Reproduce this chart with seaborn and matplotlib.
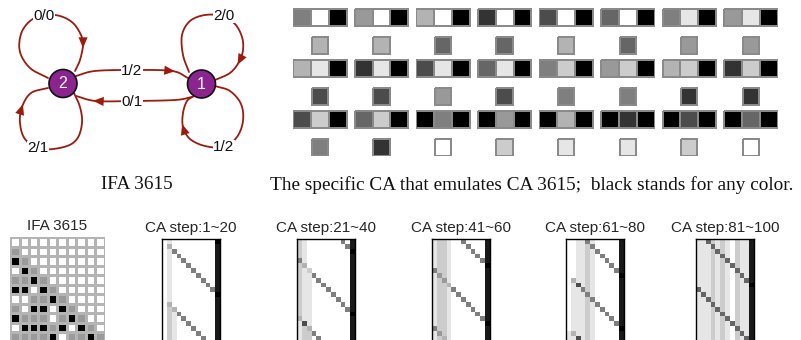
import numpy as np
import matplotlib
matplotlib.use("Agg")
import matplotlib.pyplot as plt
import seaborn as sns
from matplotlib.colors import ListedColormap
from matplotlib.patches import Circle

# ---------------- data ----------------
# transducer IFA 3615: (label, source, target)
edge_labels = ["1/2", "0/1", "0/0", "2/1", "2/0", "1/2"]
edge_src = ["2", "1", "2", "2", "1", "1"]
edge_dst = ["1", "2", "2", "2", "1", "1"]

# CA rules, grey level 0 (white) .. 10 (black); right cell always black
rule_left = [[5, 4, 3, 8, 7, 6, 5, 4],
             [3, 8, 7, 6, 5, 4, 3, 8],
             [7, 6, 10, 10, 10, 10, 10, 10]]
rule_mid = [[0, 0, 0, 0, 0, 0, 1, 1],
            [1, 1, 1, 1, 2, 2, 2, 2],
            [2, 2, 5, 4, 3, 8, 7, 6]]
rule_right = [[10] * 8, [10] * 8, [10] * 8]
rule_out = [[3, 3, 6, 6, 3, 6, 4, 4],
            [7, 7, 4, 7, 5, 5, 8, 8],
            [5, 8, 0, 2, 1, 1, 2, 0]]

# IFA 3615 space-time diagram: 0 white, 1 grey, 2 black
ifa_rows = ["0000000000",
            "1000000000",
            "2100000000",
            "0210000000",
            "1121000000",
            "2202100000",
            "0011210000",
            "1022021000",
            "2111012100",
            "0222120210",
            "1111201121"]

ca_titles = ["CA step:1~20", "CA step:21~40", "CA step:41~60",
             "CA step:61~80", "CA step:81~100"]
# grey level per cell, X = 10 (black)
ca_1 = ["01000000000X", "030000000009", "015000000009", "010500000009",
        "010050000009", "010005000009", "010000500009", "010000050009",
        "010000005009", "010000000509", "010000000059", "01000000000X",
        "010000000009", "030000000009", "023000000009", "021500000009",
        "021050000009", "021005000009", "021000500009", "021000050009",
        "021000005009", "021000000509"]
ca_2 = ["210000000509", "210000000059", "21000000000X", "210000000009",
        "510000000009", "230000000009", "212000000009", "211500000009",
        "211050000009", "211005000009", "211000500009", "211000050009",
        "211000005009", "211000000509", "211000000059", "21100000000X",
        "311000000009", "171000000009", "123000000009", "122500000009",
        "122050000009", "122005000009"]
ca_3 = ["122100500009", "122100050009", "122100005009", "122100000509",
        "122100000059", "12210000000X", "522100000009", "142100000009",
        "124100000009", "122300000009", "122150000009", "122105000009",
        "122100500009", "122100050009", "122100005009", "122100000509",
        "122100000059", "12210000000X", "522100000009", "142100000009",
        "123100000009", "122800000009"]
ca_4 = ["001151000009", "001125000009", "001121500009", "001121050009",
        "001121005009", "001121000509", "001121000059", "00112100000X",
        "031121000009", "017121000009", "011521000009", "011151000009",
        "011125000009", "011121500009", "011121050009", "011121005009",
        "011121000509", "011121000059", "01112100000X", "131121000009",
        "117121000009", "111521000009"]
ca_5 = ["116212102119", "111612102119", "111262102119", "111216102119",
        "111212602119", "111212162119", "111212106119", "111212102619",
        "111212102169", "11121210211X", "611212102119", "161212102119",
        "116212102119", "111612102119", "111262102119", "111216102119",
        "111212602119", "111212162119", "111212106119", "111212102619",
        "111212102169", "11121210211X"]
ca_panels = [ca_1, ca_2, ca_3, ca_4, ca_5]

# ---------------- layout ----------------
sns.set_theme(style="white")
plt.rcParams['font.family'] = ['Liberation Sans', 'DejaVu Sans']

W, H = 801, 340
fig = plt.figure(figsize=(W / 100, H / 100), dpi=100)


def px_axes(x0, y0, x1, y1):
    return fig.add_axes([x0 / W, 1 - y1 / H, (x1 - x0) / W, (y1 - y0) / H])


def to_grid(rows):
    return np.array([[10 if ch == "X" else int(ch) for ch in r] for r in rows], float)


def catmull(pts, n=16):
    pts = np.asarray(pts, float)
    P = np.vstack([2 * pts[0] - pts[1], pts, 2 * pts[-1] - pts[-2]])
    out = []
    t = np.linspace(0, 1, n, endpoint=False)[:, None]
    for i in range(1, len(P) - 2):
        p0, p1, p2, p3 = P[i - 1], P[i], P[i + 1], P[i + 2]
        out.append(0.5 * (2 * p1 + (-p0 + p2) * t + (2 * p0 - 5 * p1 + 4 * p2 - p3) * t ** 2
                          + (-p0 + 3 * p1 - 3 * p2 + p3) * t ** 3))
    out.append(P[-2][None])
    return np.vstack(out), n


# ---------------- transducer diagram ----------------
ax = px_axes(0, 0, 270, 165)
ax.set_xlim(0, 270)
ax.set_ylim(165, 0)
ax.axis("off")

red = "#9c1b0f"
node_xy = {"2": (63, 83.5), "1": (201.5, 84)}
# route of each edge (waypoints), arrow waypoint, label position
routes = [
    ([(76, 76), (95, 71), (132, 70), (172, 71), (188, 78)], 3, (132, 71)),
    ([(192, 97), (175, 100), (132, 101), (96, 101), (76, 96)], 3, (132, 102)),
    ([(48, 78), (30, 68), (20, 52), (21, 34), (30, 21), (44, 15), (60, 16),
      (73, 23), (81, 35), (83, 45), (80, 60), (75, 71)], 9, (44, 16)),
    ([(74, 93), (80, 107), (82, 123), (77, 139), (64, 147), (40, 149),
      (25, 139), (20, 123), (22, 107), (31, 93), (48, 88)], 8, (38, 148)),
    ([(189, 72), (183, 55), (182, 35), (190, 21), (205, 15), (222, 16),
      (235, 24), (242, 37), (243, 50), (239, 62), (230, 73), (215, 80)], 9, (224, 16)),
    ([(215, 86), (230, 91), (241, 104), (243, 121), (237, 137), (224, 147),
      (205, 146), (190, 139), (183, 127), (183, 113), (187, 101), (194, 96)], 8, (224, 147)),
]
for lbl, (pts, ai, lp) in zip(edge_labels, routes):
    curve, n = catmull(pts)
    ax.plot(curve[:, 0], curve[:, 1], color=red, lw=1.3, zorder=2)
    k = ai * n
    p = curve[k]
    d = curve[k] - curve[k - 3]
    d = d / np.hypot(*d)
    ax.annotate("", xy=p + d * 3, xytext=p - d * 4,
                arrowprops=dict(arrowstyle="-|>,head_length=0.7,head_width=0.3",
                                color=red, lw=0, shrinkA=0, shrinkB=0,
                                mutation_scale=11), zorder=3)
    ax.text(lp[0], lp[1], lbl, ha="center", va="center", fontsize=11,
            color="#111111", zorder=4,
            bbox=dict(facecolor="white", edgecolor="none", pad=0.3))

for name, (x, y) in node_xy.items():
    ax.add_patch(Circle((x, y), 14, facecolor="#8c2490", edgecolor="#111111",
                        lw=1.2, zorder=5))
    ax.text(x, y + 0.5, name, color="white", ha="center", va="center",
            fontsize=11.5, zorder=6)

# ---------------- rule table ----------------
grey = "gray_r"
for i in range(3):
    for j in range(8):
        x0 = 292.5 + j * 61.55
        yt = 8 + i * 51
        a = px_axes(x0, yt, x0 + 55, yt + 18.5)
        sns.heatmap(np.array([[rule_left[i][j], rule_mid[i][j], rule_right[i][j]]]),
                    cmap=grey, vmin=0, vmax=10, cbar=False, linewidths=1.1,
                    linecolor="#8a8a8a", xticklabels=False, yticklabels=False, ax=a)
        a.set_xlim(-0.04, 3.04)
        a.set_ylim(1.06, -0.06)
        ys = yt + 28
        b = px_axes(x0 + 18.3, ys, x0 + 36.6, ys + 18.5)
        sns.heatmap(np.array([[rule_out[i][j]]]), cmap=grey, vmin=0, vmax=10,
                    cbar=False, linewidths=1.1, linecolor="#8a8a8a",
                    xticklabels=False, yticklabels=False, ax=b)
        b.set_xlim(-0.06, 1.06)
        b.set_ylim(1.06, -0.06)

# ---------------- captions ----------------
fig.text(137 / W, 1 - 185 / H, "IFA 3615", ha="center", va="center",
         family="Liberation Serif", fontsize=13.9, color="#111111")
fig.text(532 / W, 1 - 185 / H,
         "The specific CA that emulates CA 3615;  black stands for any color.",
         ha="center", va="center", family="Liberation Serif", fontsize=13.9,
         color="#111111")

# ---------------- IFA space-time ----------------
ifa = np.array([[int(c) for c in r] for r in ifa_rows])
a = px_axes(10, 237, 105, 237 + 9.5 * len(ifa_rows))
sns.heatmap(ifa, cmap=ListedColormap(["white", "#9a9a9a", "black"]), vmin=-0.5,
            vmax=2.5, cbar=False, linewidths=1, linecolor="#b4b4b4",
            xticklabels=False, yticklabels=False, ax=a)
a.set_title("IFA 3615", fontsize=11, pad=5)

# ---------------- CA space-time panels ----------------
panel_x = [162, 297, 432, 566, 696]
for title, rows, x0 in zip(ca_titles, ca_panels, panel_x):
    g = to_grid(rows)
    cell = 58 / g.shape[1]
    a = px_axes(x0, 239, x0 + 58, 239 + cell * g.shape[0])
    sns.heatmap(g, cmap=grey, vmin=0, vmax=10, cbar=False,
                xticklabels=False, yticklabels=False, ax=a)
    for s in a.spines.values():
        s.set_visible(True)
        s.set_color("black")
        s.set_linewidth(1)
    a.set_title(title, fontsize=11, pad=5)

fig.savefig("out.png", dpi=100)
